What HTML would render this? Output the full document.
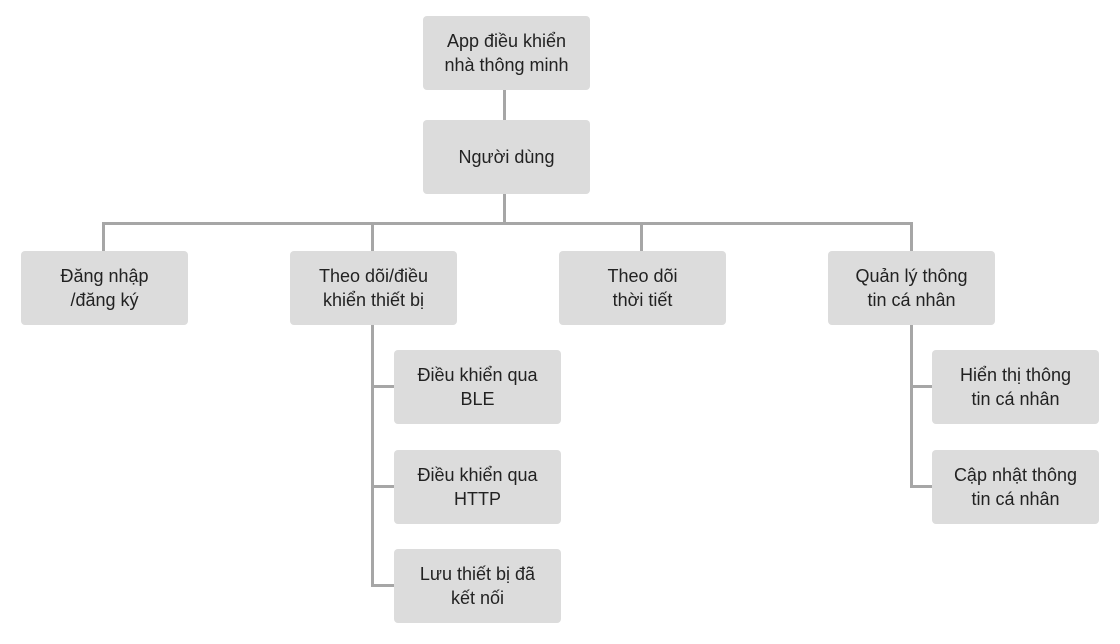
<!DOCTYPE html>
<html><head><meta charset="utf-8"><style>
body{margin:0;width:1120px;height:644px;background:#fff;position:relative;overflow:hidden;font-family:"Liberation Sans","DejaVu Sans",sans-serif;}
.b{position:absolute;width:167px;height:74px;background:#dcdcdc;border-radius:4px;display:flex;align-items:center;justify-content:center;text-align:center;font-size:18px;line-height:24px;color:#222;}
.l{position:absolute;background:#a6a6a6;}
</style></head><body>
<div class="l" style="left:503px;top:90px;width:3px;height:30px"></div>
<div class="l" style="left:503px;top:193px;width:3px;height:31px"></div>
<div class="l" style="left:102px;top:222px;width:811px;height:3px"></div>
<div class="l" style="left:102px;top:222px;width:3px;height:29px"></div>
<div class="l" style="left:371px;top:222px;width:3px;height:29px"></div>
<div class="l" style="left:640px;top:222px;width:3px;height:29px"></div>
<div class="l" style="left:910px;top:222px;width:3px;height:29px"></div>
<div class="l" style="left:371px;top:325px;width:3px;height:262px"></div>
<div class="l" style="left:371px;top:385px;width:23px;height:3px"></div>
<div class="l" style="left:371px;top:485px;width:23px;height:3px"></div>
<div class="l" style="left:371px;top:584px;width:23px;height:3px"></div>
<div class="l" style="left:910px;top:325px;width:3px;height:163px"></div>
<div class="l" style="left:910px;top:385px;width:23px;height:3px"></div>
<div class="l" style="left:910px;top:485px;width:23px;height:3px"></div>
<div class="b" style="left:423px;top:16px">App điều khiển<br>nhà thông minh</div>
<div class="b" style="left:423px;top:120px">Người dùng</div>
<div class="b" style="left:21px;top:251px">Đăng nhập<br>/đăng ký</div>
<div class="b" style="left:290px;top:251px">Theo dõi/điều<br>khiển thiết bị</div>
<div class="b" style="left:559px;top:251px">Theo dõi<br>thời tiết</div>
<div class="b" style="left:828px;top:251px">Quản lý thông<br>tin cá nhân</div>
<div class="b" style="left:394px;top:350px">Điều khiển qua<br>BLE</div>
<div class="b" style="left:394px;top:450px">Điều khiển qua<br>HTTP</div>
<div class="b" style="left:394px;top:549px">Lưu thiết bị đã<br>kết nối</div>
<div class="b" style="left:932px;top:350px">Hiển thị thông<br>tin cá nhân</div>
<div class="b" style="left:932px;top:450px">Cập nhật thông<br>tin cá nhân</div>
</body></html>
